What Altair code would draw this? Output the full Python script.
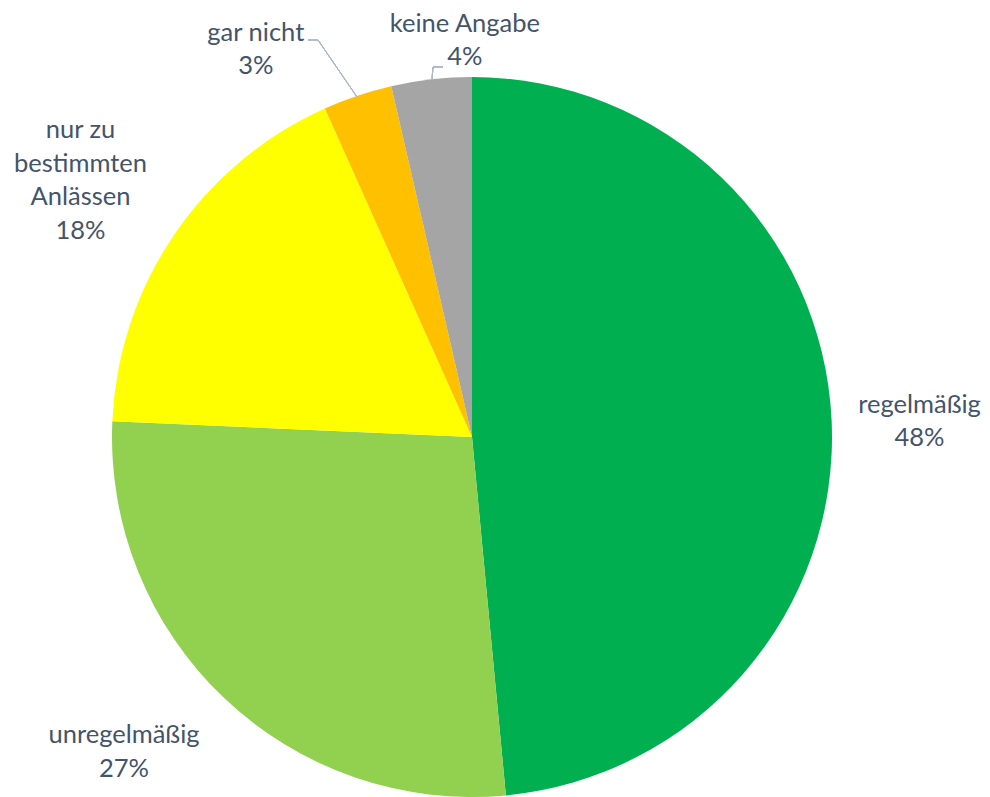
import altair as alt
import pandas as pd

categories = ["regelmäßig", "unregelmäßig", "nur zu bestimmten Anlässen", "gar nicht", "keine Angabe"]
label_text = ["regelmäßig\n48%", "unregelmäßig\n27%", "nur zu\nbestimmten\nAnlässen\n18%", "gar nicht\n3%", "keine Angabe\n4%"]
values = [48.5, 27.2, 17.6, 3.1, 3.6]
colors = ["#00B050", "#92D050", "#FFFF00", "#FFC000", "#A5A5A5"]

df = pd.DataFrame({"cat": categories, "label": label_text, "value": values,
                   "order": list(range(len(categories)))})

CX, CY, R = 464, 429, 360
TEXT_COLOR = "#44546A"
FONT = "Lato"

base = alt.Chart(df)

pie = base.mark_arc(outerRadius=R, stroke=None).encode(
    theta=alt.Theta("value:Q", stack=True),
    order=alt.Order("order:Q"),
    color=alt.Color("cat:N", scale=alt.Scale(domain=categories, range=colors), legend=None),
    x=alt.value(CX), y=alt.value(CY),
)

# label placement: (radius, dx, dy) per category
placement = {
    "regelmäßig": (450, -2, -11),
    "unregelmäßig": (460, -31, -35),
    "nur zu bestimmten Anlässen": (460, -11, -48),
    "gar nicht": (400, -89, -25),
    "keine Angabe": (400, 38, -16),
}

text_base = base.transform_window(
    cum="sum(value)", sort=[alt.SortField("order")], frame=[None, 0]
).transform_joinaggregate(
    total="sum(value)"
).transform_calculate(
    mid="(datum.cum - datum.value / 2) / datum.total"
)

text_layers = []
for cat, (rad, dx, dy) in placement.items():
    text_layers.append(
        text_base.mark_text(radius=rad, dx=dx, dy=dy, font=FONT, fontSize=25.5, lineHeight=33.5,
                            color=TEXT_COLOR, align="center", baseline="middle", lineBreak="\n")
        .encode(theta=alt.Theta("mid:Q", stack=None, scale=alt.Scale(domain=[0, 1])),
                text="label:N",
                x=alt.value(CX), y=alt.value(CY))
        .transform_filter(alt.datum.cat == cat)
    )

LEADER = "#ADB9CA"
leaders = [
    base.mark_rule(color=LEADER, strokeWidth=1).encode(
        x=alt.value(300), x2=alt.value(310), y=alt.value(32), y2=alt.value(32)),
    base.mark_rule(color=LEADER, strokeWidth=1).encode(
        x=alt.value(310), x2=alt.value(349), y=alt.value(32), y2=alt.value(89)),
    base.mark_rule(color=LEADER, strokeWidth=1).encode(
        x=alt.value(425), x2=alt.value(435), y=alt.value(59), y2=alt.value(59)),
    base.mark_rule(color=LEADER, strokeWidth=1).encode(
        x=alt.value(425), x2=alt.value(424), y=alt.value(59), y2=alt.value(71)),
]

chart = alt.layer(pie, *leaders, *text_layers).resolve_scale(theta="independent").properties(
    width=974, height=789, padding=0, autosize="none"
).configure_view(stroke=None)

chart.save("out.html", embed_options={"renderer": "svg", "actions": False})
